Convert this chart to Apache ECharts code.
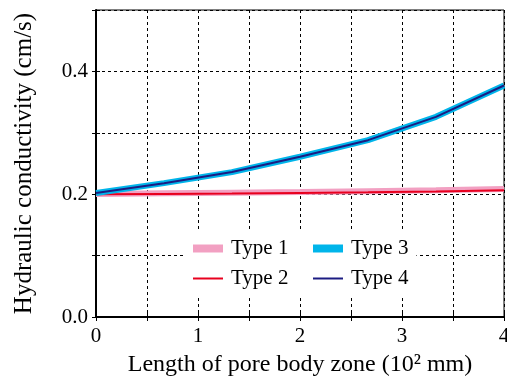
<!DOCTYPE html>
<html>
<head>
<meta charset="utf-8">
<script src="https://cdn.jsdelivr.net/npm/echarts@6/dist/echarts.min.js"></script>
<style>
  html, body { margin: 0; padding: 0; background: #fff; }
  #chart { width: 507px; height: 378px; }
</style>
</head>
<body>
<div id="chart"></div>
<script>
// values
var lengths = [0, 0.667, 1.333, 2, 2.667, 3.333, 4];
var type1 = [0.2005, 0.2015, 0.2025, 0.2035, 0.2050, 0.2065, 0.2085];
var type2 = [0.2000, 0.2005, 0.2010, 0.2020, 0.2030, 0.2045, 0.2065];
var type3 = [0.202, 0.218, 0.236, 0.261, 0.288, 0.326, 0.377];
var type4 = [0.202, 0.218, 0.236, 0.261, 0.288, 0.326, 0.377];
var xLabels = ['0', '1', '2', '3', '4'];
var yLabels = ['0.0', '0.2', '0.4'];

var serif = 'Liberation Serif';
var colors = { t1: '#f2a0c2', t2: '#e8001e', t3: '#00b5ea', t4: '#1c1c82' };

function pairs(ys) {
  return lengths.map(function (x, i) { return [x, ys[i]]; });
}

function lineSeries(name, ys, color, width) {
  return {
    name: name,
    type: 'line',
    data: pairs(ys),
    showSymbol: false,
    symbol: 'none',
    silent: true,
    animation: false,
    lineStyle: { color: color, width: width },
    itemStyle: { color: color, borderWidth: 0 }
  };
}

var gridLine = { show: true, lineStyle: { color: '#000', width: 1, type: [3, 3] } };
var tickIn = { show: true, inside: true, length: 4, lineStyle: { color: '#000', width: 1 } };
var thick = 'path://M0,0H30V8H0Z';
var thin = 'path://M0,0H30V2H0Z';

// one legend column
function legendCol(items, left, padding) {
  return {
    data: items,
    orient: 'vertical',
    left: left, top: 232,
    itemWidth: 30, itemHeight: 14, itemGap: 9,
    padding: padding,
    backgroundColor: '#fff',
    itemStyle: { borderWidth: 0 },
    textStyle: { fontFamily: serif, fontSize: 21, color: '#000', padding: [0, 0, 0, 3] }
  };
}

var chart = echarts.init(document.getElementById('chart'));
chart.setOption({
  backgroundColor: '#fff',
  animation: false,
  grid: {
    left: 96, right: 3, top: 10, bottom: 61,
    outerBoundsMode: 'none',
    containLabel: false,
    show: true, borderColor: '#000', borderWidth: 1, backgroundColor: 'transparent'
  },
  legend: [
    legendCol([{ name: 'Type 1', icon: thick }, { name: 'Type 2', icon: thin }], 184, [6, 24, 7, 9]),
    legendCol([{ name: 'Type 3', icon: thick }, { name: 'Type 4', icon: thin }], 312, [6, 8, 7, 1])
  ],
  xAxis: [{
    type: 'value', min: 0, max: 4, interval: 0.5,
    name: 'Length of pore body zone (10\u00b2 mm)',
    nameLocation: 'middle', nameGap: 36,
    nameTextStyle: { fontFamily: serif, fontSize: 24, color: '#000' },
    axisLine: { show: true, onZero: false, lineStyle: { color: '#000', width: 2 } },
    axisTick: tickIn,
    splitLine: gridLine,
    axisLabel: {
      fontFamily: serif, fontSize: 21, color: '#000', margin: 9,
      formatter: function (v) {
        var i = xLabels.indexOf(String(v));
        return i >= 0 ? xLabels[i] : '';
      }
    }
  }, {
    type: 'value', position: 'top', min: 0, max: 4, interval: 0.5,
    axisLine: { show: true, lineStyle: { color: '#000', width: 1 } },
    axisTick: tickIn, axisLabel: { show: false }, splitLine: { show: false }
  }],
  yAxis: [{
    type: 'value', min: 0, max: 0.5, interval: 0.1,
    name: 'Hydraulic conductivity (cm/s)',
    nameLocation: 'middle', nameGap: 59,
    nameTextStyle: { fontFamily: serif, fontSize: 25, color: '#000' },
    axisLine: { show: true, onZero: false, lineStyle: { color: '#000', width: 2 } },
    axisTick: tickIn,
    splitLine: gridLine,
    axisLabel: {
      fontFamily: serif, fontSize: 21, color: '#000', margin: 8,
      formatter: function (v) {
        var s = v.toFixed(1);
        return yLabels.indexOf(s) >= 0 ? s : '';
      }
    }
  }, {
    type: 'value', position: 'right', min: 0, max: 0.5, interval: 0.1,
    axisLine: { show: true, lineStyle: { color: '#000', width: 1 } },
    axisTick: tickIn, axisLabel: { show: false }, splitLine: { show: false }
  }],
  series: [
    lineSeries('Type 1', type1, colors.t1, 6),
    lineSeries('Type 2', type2, colors.t2, 2),
    lineSeries('Type 3', type3, colors.t3, 6),
    lineSeries('Type 4', type4, colors.t4, 2)
  ]
});
</script>
</body>
</html>
